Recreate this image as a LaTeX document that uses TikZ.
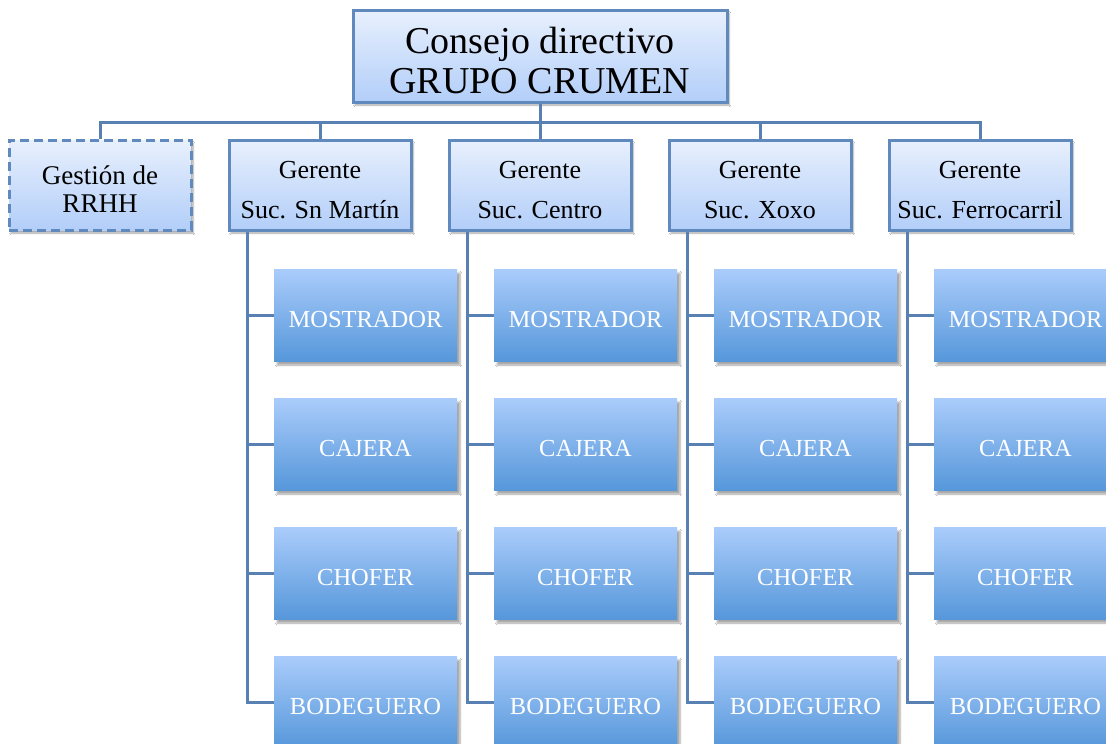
\documentclass[tikz,border=0pt]{standalone}
\usepackage{fontspec}
\setmainfont{Liberation Serif}
\usetikzlibrary{shadows.blur}
\definecolor{edge}{RGB}{96,138,190}
\definecolor{lineC}{RGB}{88,128,178}
\definecolor{lightTop}{RGB}{232,240,253}
\definecolor{lightBot}{RGB}{178,206,249}
\definecolor{darkTop}{RGB}{170,204,251}
\definecolor{darkBot}{RGB}{86,151,218}
\tikzset{
  boss/.style={draw=edge, line width=3pt, top color=lightTop, bottom color=lightBot,
    inner sep=0pt, align=center, text=black,
    blur shadow={shadow xshift=2pt, shadow yshift=-3pt, shadow opacity=35, shadow blur steps=6}},
  gerbox/.style={boss, minimum width=182pt, minimum height=90pt, font=\fontsize{26}{40}\selectfont,
    text height=66pt, text depth=0pt},
  subbox/.style={top color=darkTop, bottom color=darkBot, inner sep=0pt,
    minimum width=183pt, minimum height=92pt, text=white, font=\fontsize{24.5}{30}\selectfont,
    text height=24pt, text depth=0pt,
    blur shadow={shadow xshift=3pt, shadow yshift=-4pt, shadow opacity=35, shadow blur steps=6}},
  conn/.style={draw=lineC, line width=3pt}
}
\begin{document}
\begin{tikzpicture}[x=1pt, y=-1pt]
\useasboundingbox (0,0) rectangle (1106,744);
\fill[white] (0,0) rectangle (1106,744);
\coordinate (bus) at (540,122);
\node[boss, minimum width=374pt, minimum height=92pt, font=\fontsize{38}{40}\selectfont,
  text height=74pt, text depth=0pt] (top) at (540,56) {Consejo directivo\\GRUPO CRUMEN};
\node[gerbox, dash pattern=on 9pt off 5pt, font=\fontsize{27}{28}\selectfont,
  text height=54pt] (rh) at (100,185) {Gestión de\\RRHH};
\node[gerbox] (g1) at (320,185) {Gerente\\Suc. Sn Martín};
\node[gerbox] (g2) at (540,185) {Gerente\\Suc. Centro};
\node[gerbox] (g3) at (760,185) {Gerente\\Suc. Xoxo};
\node[gerbox] (g4) at (980,185) {Gerente\\Suc. Ferrocarril};
\foreach \c/\x in {1/365.5, 2/585.5, 3/805.5, 4/1025.5}{
  \node[subbox] (m\c) at (\x,315) {MOSTRADOR};
  \node[subbox] (c\c) at (\x,444) {CAJERA};
  \node[subbox] (h\c) at (\x,573) {CHOFER};
  \node[subbox] (b\c) at (\x,702) {BODEGUERO};
}
\draw[conn] (top.south) -- (bus);
\draw[conn] (bus) -| (rh.north);
\draw[conn] (bus) -| (g4.north);
\foreach \g in {g1,g2,g3}{ \draw[conn] (bus) -| (\g.north); }
\foreach \c/\vx in {1/247, 2/467, 3/687, 4/907}{
  \coordinate (v\c) at (\vx,231.5);
  \draw[conn] (v\c) |- (m\c.west);
  \draw[conn] (v\c) |- (c\c.west);
  \draw[conn] (v\c) |- (h\c.west);
  \draw[conn] (v\c) |- (b\c.west);
}
\end{tikzpicture}
\end{document}
